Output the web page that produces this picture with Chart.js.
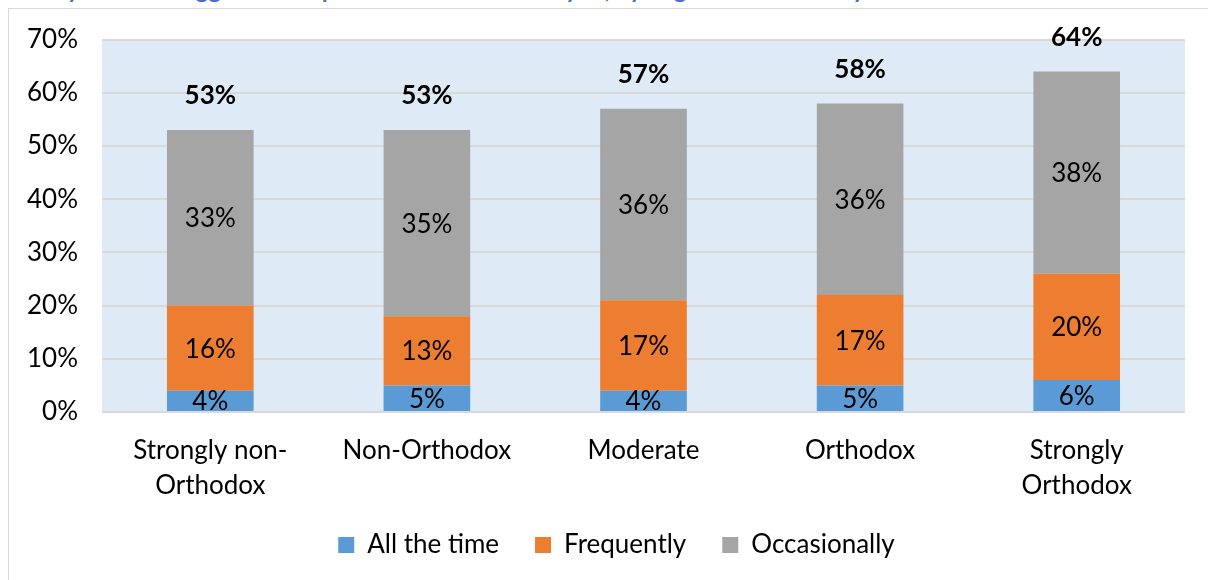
<!DOCTYPE html>
<html lang="en">
<head>
  <meta charset="UTF-8" />
  <title>Orthodoxy chart</title>
  <script src="https://cdn.jsdelivr.net/npm/chart.js"></script>
  <style>
    body {
      margin: 0;
      width: 1208px;
      height: 580px;
      overflow: hidden;
      background: #fff;
      position: relative;
      font-family: Lato, sans-serif;
    }
    #frame {
      position: absolute;
      left: 8px;
      top: 8px;
      width: 1220px;
      height: 600px;
      border: 1px solid #d9d9d9;
    }
    #title {
      position: absolute;
      left: 30px;
      top: -26px;
      line-height: 30px;
      color: #4472c4;
      font-weight: bold;
      font-size: 24px;
      white-space: nowrap;
    }
    #chart {
      position: absolute;
      left: 0;
      top: 0;
    }
  </style>
</head>
<body>
  <div id="frame"></div>
  <div id="title">Do you feel exaggerated impact of the rhetoric on you, by degree of orthodoxy</div>
  <canvas id="chart" width="1208" height="580"></canvas>

  <script>
    const categories = [['Strongly non-', 'Orthodox'], 'Non-Orthodox', 'Moderate', 'Orthodox', ['Strongly', 'Orthodox']];
    const allTheTime = [4, 5, 4, 5, 6];
    const frequently = [16, 13, 17, 17, 20];
    const occasionally = [33, 35, 36, 36, 38];
    const yTicks = [0, 10, 20, 30, 40, 50, 60, 70];

    const FONT = 'Lato';
    const SIZE = 26;

    // light blue plot background
    const plotBg = {
      id: 'plotBg',
      beforeDraw(chart) {
        const { ctx, chartArea: a } = chart;
        ctx.save();
        ctx.fillStyle = '#deebf7';
        ctx.fillRect(a.left, a.top, a.right - a.left, a.bottom - a.top);
        ctx.restore();
      }
    };

    // nudge the legend a little to the right, like the original
    const legendShift = {
      id: 'legendShift',
      afterLayout(chart) {
        chart.legend.left += 24;
        chart.legend.right += 24;
      }
    };

    // value labels inside segments + bold totals above
    const valueLabels = {
      id: 'valueLabels',
      afterDatasetsDraw(chart) {
        const { ctx } = chart;
        ctx.save();
        ctx.textAlign = 'center';
        ctx.textBaseline = 'middle';
        ctx.fillStyle = '#000';
        ctx.font = SIZE + 'px ' + FONT;
        chart.data.datasets.forEach((ds, i) => {
          chart.getDatasetMeta(i).data.forEach((bar, j) => {
            const mid = (bar.y + bar.base) / 2;
            ctx.fillText(ds.data[j] + '%', bar.x, mid + 1);
          });
        });
        ctx.font = 'bold ' + SIZE + 'px ' + FONT;
        const y = chart.scales.y;
        categories.forEach((c, j) => {
          const total = allTheTime[j] + frequently[j] + occasionally[j];
          const x = chart.scales.x.getPixelForValue(j);
          ctx.fillText(total + '%', x, y.getPixelForValue(total) - 34);
        });
        ctx.restore();
      }
    };

    new Chart(document.getElementById('chart'), {
      type: 'bar',
      data: {
        labels: categories,
        datasets: [
          { label: 'All the time', data: allTheTime, backgroundColor: '#5b9bd5' },
          { label: 'Frequently', data: frequently, backgroundColor: '#ed7d31' },
          { label: 'Occasionally', data: occasionally, backgroundColor: '#a5a5a5' }
        ]
      },
      options: {
        responsive: false,
        animation: false,
        devicePixelRatio: 1,
        layout: { padding: { top: 38, right: 23, left: 0, bottom: 12 } },
        datasets: { bar: { barPercentage: 0.4, categoryPercentage: 1 } },
        plugins: {
          tooltip: { enabled: false },
          legend: {
            position: 'bottom',
            labels: {
              color: '#000',
              font: { family: FONT, size: SIZE },
              boxWidth: 16,
              boxHeight: 16,
              padding: 36
            }
          }
        },
        scales: {
          x: {
            stacked: true,
            grid: { display: false, drawTicks: false },
            border: { display: false },
            ticks: {
              color: '#000',
              font: { family: FONT, size: SIZE, lineHeight: 1.35 },
              padding: 21,
              maxRotation: 0
            },
            afterFit(s) { s.height = 84; }
          },
          y: {
            stacked: true,
            min: 0,
            max: 70,
            afterBuildTicks(s) { s.ticks = yTicks.map(v => ({ value: v })); },
            grid: { color: '#d9d9d9', lineWidth: 2, drawTicks: false },
            border: { display: false },
            ticks: {
              color: '#000',
              font: { family: FONT, size: SIZE },
              padding: 24,
              callback: v => v + '%'
            },
            afterFit(s) { s.width = 102; }
          }
        }
      },
      plugins: [plotBg, legendShift, valueLabels]
    });
  </script>
</body>
</html>
